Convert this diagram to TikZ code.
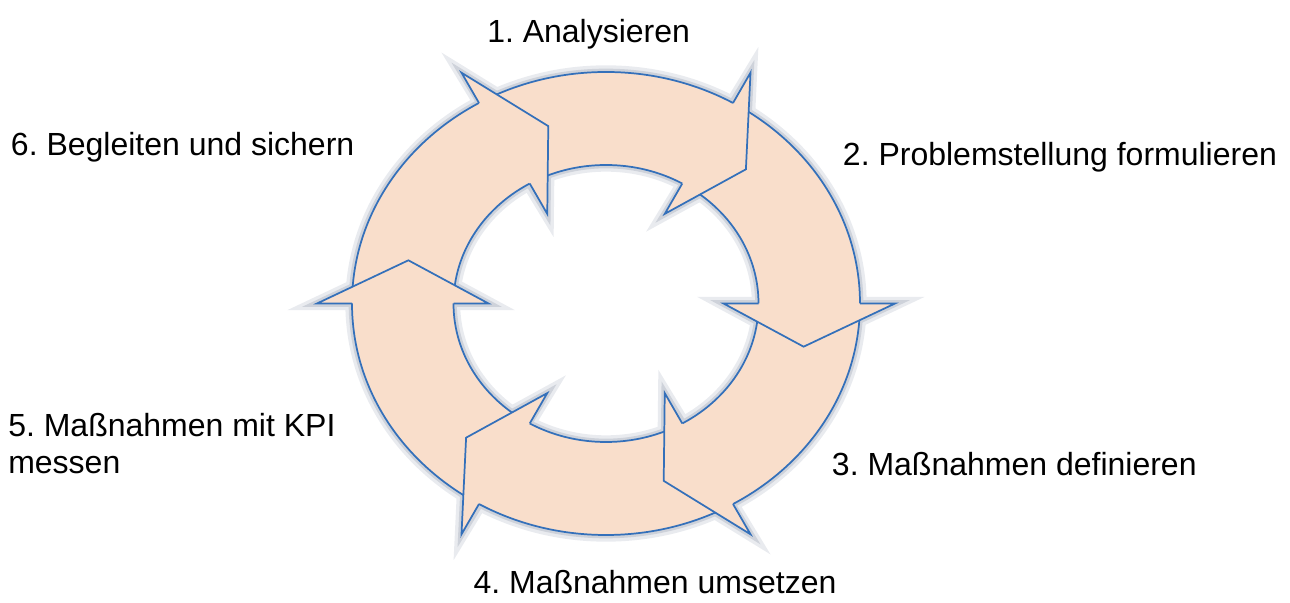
\documentclass[tikz,border=0pt]{standalone}
\usepackage{fontspec}
\setmainfont{Liberation Sans}
\usetikzlibrary{calc}
\begin{document}
\begin{tikzpicture}
[x=0.75pt,y=0.75pt,line join=miter,
% Styles
step label/.style={anchor=base west,inner sep=0pt,align=left,
  font=\fontsize{24}{27.75}\selectfont\frenchspacing},
ring fill/.style={fill=ringfill},
ring line/.style={draw=ringline,line width=1.3pt},
glow wide/.style={draw=glowlight,line width=10pt},
glow narrow/.style={draw=glowdark,line width=5pt}]
% Local definitions
\def\rxo{254}\def\ryo{231.5}
\def\rxi{152.5}\def\ryi{138.5}
\def\rxm{203.25}\def\rym{185}
\def\rxb{289}\def\ryb{266.5}
\def\rxc{117.5}\def\ryc{103.5}
\def\tipshift{13.5}
% Colors
\definecolor{ringfill}{RGB}{249,222,203}
\definecolor{ringline}{RGB}{52,112,186}
\definecolor{glowlight}{RGB}{233,235,239}
\definecolor{glowdark}{RGB}{206,210,218}
% Frame
\useasboundingbox (0,0) rectangle (1290,603);
\coordinate (c) at (606,299.5);
% Head points
\foreach \h [count=\i] in {60,0,-60,-120,-180,-240}{
  \coordinate (outer\i) at ($(c)+(\h:{\rxo} and {\ryo})$);
  \coordinate (outbarb\i) at ($(c)+(\h:{\rxb} and {\ryb})$);
  \coordinate (tip\i) at ($(c)+({\h-\tipshift}:{\rxm} and {\rym})$);
  \coordinate (inbarb\i) at ($(c)+(\h:{\rxc} and {\ryc})$);
  \coordinate (inner\i) at ($(c)+(\h:{\rxi} and {\ryi})$);
}
% Glow
\foreach \g in {glow wide,glow narrow}{
  \draw[\g] (c) ellipse [x radius=\rxo,y radius=\ryo];
  \draw[\g] (c) ellipse [x radius=\rxi,y radius=\ryi];
  \foreach \i in {1,...,6}
    \draw[\g] (outbarb\i) -- (tip\i) -- (inbarb\i) -- cycle;
}
% The ring of shafts
\fill[ring fill,even odd rule] (c) ellipse [x radius=\rxo,y radius=\ryo]
  (c) ellipse [x radius=\rxi,y radius=\ryi];
\draw[ring line] (c) ellipse [x radius=\rxo,y radius=\ryo];
\draw[ring line] (c) ellipse [x radius=\rxi,y radius=\ryi];
% The heads
\foreach \i in {1,...,6}
  \filldraw[ring fill,ring line]
    (outer\i) -- (outbarb\i) -- (tip\i) -- (inbarb\i) -- (inner\i);
% Labels
\node[step label] (analyse) at (487,560.3) {1. Analysieren};
\node[step label] (problem) at (842.7,437) {2. Problemstellung formulieren};
\node[step label] (define) at (831.7,127) {3. Maßnahmen definieren};
\node[step label] (apply) at (473.3,9) {4. Maßnahmen umsetzen};
\node[step label] (measure) at (8,129) {5. Maßnahmen mit KPI\\messen};
\node[step label] (secure) at (10.7,447) {6. Begleiten und sichern};
\end{tikzpicture}
\end{document}
